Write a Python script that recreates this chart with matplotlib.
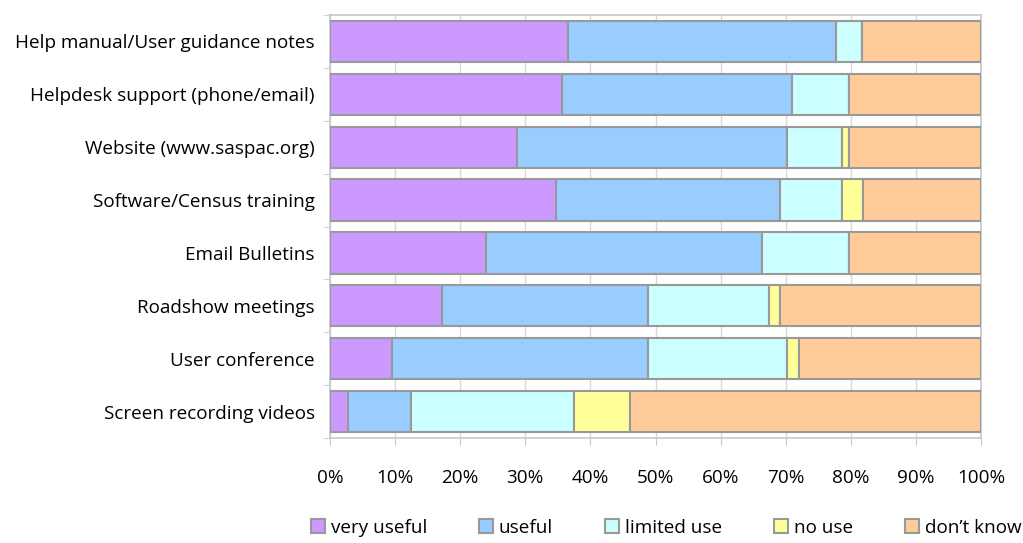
import numpy as np
import matplotlib.pyplot as plt
from matplotlib.patches import Patch

# Datos (porcentaje por categoria)
categorias = ['Help manual/User guidance notes', 'Helpdesk support (phone/email)',
              'Website (www.saspac.org)', 'Software/Census training',
              'Email Bulletins', 'Roadshow meetings', 'User conference',
              'Screen recording videos']
very_useful = [36.5, 35.6, 28.8, 34.7, 23.9, 17.2, 9.5, 2.7]
useful = [41.3, 35.4, 41.4, 34.5, 42.5, 31.7, 39.4, 9.8]
limited_use = [3.9, 8.7, 8.5, 9.5, 13.3, 18.5, 21.3, 25.0]
no_use = [0.0, 0.0, 1.0, 3.1, 0.0, 1.8, 1.8, 8.6]
dont_know = [18.3, 20.3, 20.3, 18.2, 20.3, 30.8, 28.0, 53.9]

series = [('very useful', very_useful, '#CC99FF'),
          ('useful', useful, '#99CCFF'),
          ('limited use', limited_use, '#CCFFFF'),
          ('no use', no_use, '#FFFF99'),
          ("don\u2019t know", dont_know, '#FFCC99')]

plt.rcParams['font.family'] = ['Open Sans', 'DejaVu Sans']
fs = 13.6

fig = plt.figure(figsize=(10.23, 5.43), dpi=100)
ax = fig.add_axes([330 / 1023, 1 - 438 / 543, 651 / 1023, 423 / 543])

y = np.arange(len(categorias))[::-1]
left = np.zeros(len(categorias))
handles = []
for nombre, valores, color in series:
    v = np.array(valores)
    ax.barh(y, v, left=left, height=0.78, color=color, edgecolor='#999999',
            linewidth=1.5, zorder=3)
    left = left + v
    handles.append(Patch(facecolor=color, edgecolor='#999999', linewidth=1.5, label=nombre))

ax.set_xlim(0, 100)
ax.set_ylim(-0.5, len(categorias) - 0.5)
ax.set_xticks(np.arange(0, 101, 10))
ax.set_xticklabels([f'{t}%' for t in range(0, 101, 10)])
ax.set_yticks(y)
ax.set_yticklabels(categorias)
ax.set_yticks(np.arange(-0.5, len(categorias), 1), minor=True)

ax.grid(axis='x', color='#D9D9D9', linewidth=1, zorder=0)
for s in ax.spines.values():
    s.set_color('#C8C8C8')
    s.set_linewidth(1.2)

ax.tick_params(axis='y', which='major', length=0, pad=11, labelsize=fs, colors='#000000')
ax.tick_params(axis='y', which='minor', length=5, color='#C8C8C8')
ax.tick_params(axis='x', length=5, color='#C8C8C8', pad=17, labelsize=fs)

fig.legend(handles=handles, loc='lower center', bbox_to_anchor=(0.651, -0.02), ncol=5,
           frameon=False, fontsize=fs, handlelength=0.75, handleheight=0.75,
           handletextpad=0.3, columnspacing=2.75)

fig.savefig('out.png', dpi=100)
